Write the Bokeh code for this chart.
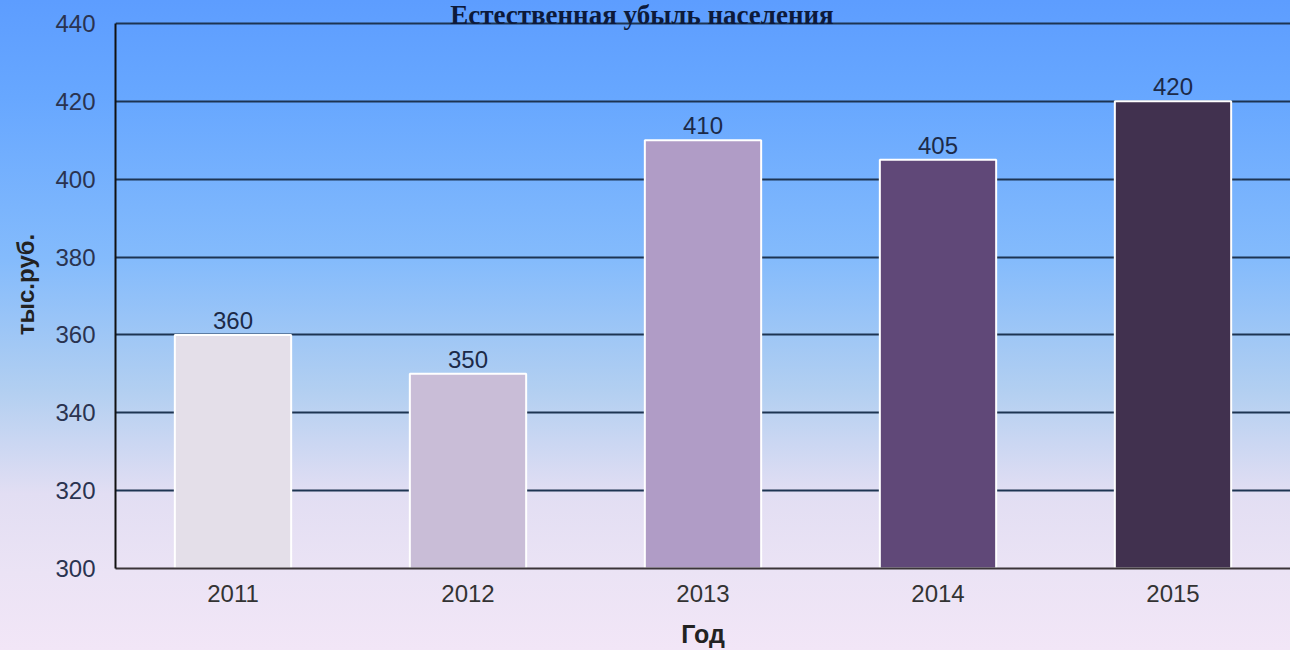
from bokeh.plotting import figure
from bokeh.models import Label, FactorRange
from bokeh.core.properties import value
from bokeh.embed import file_html
from bokeh.resources import INLINE

years = ["2011", "2012", "2013", "2014", "2015"]
values = [360, 350, 410, 405, 420]
bar_colors = ["#e4dfe9", "#c9bdd7", "#b09cc6", "#604878", "#41314f"]
y_ticks = [300, 320, 340, 360, 380, 400, 420, 440]
title_text = "Естественная убыль населения"
x_label = "Год"
y_label = "тыс.руб."

p = figure(
    x_range=FactorRange(*years), y_range=(300, 445.9),
    width=1290, height=650,
    output_backend="svg", toolbar_location=None,
    min_border_left=115, min_border_right=0, min_border_top=0, min_border_bottom=82,
    styles={"background-image": "linear-gradient(to bottom, #5d9dff 0%, #67a7ff 15%, #84bbfc 40%, #b2cff1 60%, #e2def3 76%, #ebe3f5 88%, #f2e6f7 100%)"},
)
p.border_fill_color = None
p.background_fill_color = None
p.outline_line_color = None

p.vbar(x=years, top=values, bottom=300, width=0.495, fill_color=bar_colors,
       line_color="white", line_width=2)

p.text(x=years, y=values, text=[str(v) for v in values], text_align="center",
       text_baseline="bottom", y_offset=-6, text_font=value("Liberation Sans"),
       text_font_size="24px", text_color="#1c2a48")

p.ygrid.grid_line_color = "#1d3452"
p.ygrid.grid_line_width = 2
p.xgrid.grid_line_color = None

p.yaxis.ticker = y_ticks
p.yaxis.bounds = (300, 440)
p.yaxis.major_tick_line_color = None
p.yaxis.minor_tick_line_color = None
p.yaxis.axis_line_color = "#111111"
p.yaxis.axis_line_width = 2
p.yaxis.major_label_standoff = 14
p.yaxis.major_label_text_font = "Liberation Sans"
p.yaxis.major_label_text_font_size = "24px"
p.yaxis.major_label_text_color = "#2a3350"
p.yaxis.axis_label = y_label
p.yaxis.axis_label_text_font = "Liberation Sans"
p.yaxis.axis_label_text_font_style = "bold"
p.yaxis.axis_label_text_font_size = "24px"
p.yaxis.axis_label_text_color = "#222222"
p.yaxis.axis_label_standoff = 13

p.xaxis.major_tick_line_color = None
p.xaxis.minor_tick_line_color = None
p.xaxis.axis_line_color = "#3a3438"
p.xaxis.axis_line_width = 2
p.xaxis.major_label_standoff = 10
p.xaxis.major_label_text_font = "Liberation Sans"
p.xaxis.major_label_text_font_size = "24px"
p.xaxis.major_label_text_color = "#333333"
p.xaxis.axis_label = x_label
p.xaxis.axis_label_text_font = "Liberation Sans"
p.xaxis.axis_label_text_font_style = "bold"
p.xaxis.axis_label_text_font_size = "25px"
p.xaxis.axis_label_text_color = "#222222"
p.xaxis.axis_label_standoff = 15

title = Label(x=2.24, y=442.18, text=title_text, text_align="center",
              text_baseline="alphabetic", text_font="Liberation Serif",
              text_font_style="bold", text_font_size="27px", text_color="#0d1a3a")
p.add_layout(title)

open("out.html", "w").write(file_html(p, INLINE))
